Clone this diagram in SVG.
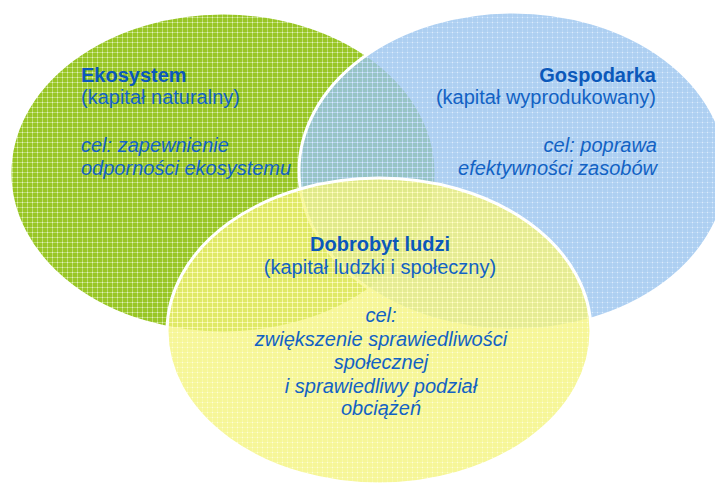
<svg xmlns="http://www.w3.org/2000/svg" width="715" height="497" viewBox="0 0 715 497">
  <defs>
    <pattern id="pg" width="5" height="5" patternUnits="userSpaceOnUse">
      <rect width="5" height="5" fill="#98C624"/>
      <rect x="2" width="1" height="5" fill="#BCDB70"/>
      <rect y="2" width="5" height="1" fill="#BCDB70"/>
      <rect x="2" y="2" width="1" height="1" fill="#E4F2C2"/>
    </pattern>
    <pattern id="pb" width="5" height="5" patternUnits="userSpaceOnUse">
      <rect width="5" height="5" fill="#98C3EE" fill-opacity="0.8"/>
      <rect x="2" width="1" height="5" fill="#BBD8F6" fill-opacity="0.8"/>
      <rect y="2" width="5" height="1" fill="#BBD8F6" fill-opacity="0.8"/>
      <rect x="2" y="2" width="1" height="1" fill="#E6F1FC" fill-opacity="0.8"/>
    </pattern>
    <pattern id="py" width="5" height="5" patternUnits="userSpaceOnUse">
      <rect width="5" height="5" fill="#F4F47A" fill-opacity="0.78"/>
      <rect x="2" width="1" height="5" fill="#F9F9AE" fill-opacity="0.78"/>
      <rect y="2" width="5" height="1" fill="#F9F9AE" fill-opacity="0.78"/>
      <rect x="2" y="2" width="1" height="1" fill="#FFFFE2" fill-opacity="0.78"/>
    </pattern>
  </defs>
  <style>
    .ring { stroke: #FFFFFF; stroke-width: 3; }
    text { font-family: "Liberation Sans", Arial, sans-serif; font-size: 20px; fill: #1262C4; }
    .b { font-weight: bold; fill: #0B58BA; }
    .i { font-style: italic; }
    .r { text-anchor: end; }
    .c { text-anchor: middle; }
  </style>
  <rect width="715" height="497" fill="#FFFFFF"/>
  <g id="ekosystem">
    <ellipse class="ring" cx="223" cy="173" rx="213" ry="160" fill="url(#pg)"/>
  </g>
  <g id="gospodarka">
    <ellipse class="ring" cx="513" cy="171" rx="214" ry="159" fill="url(#pb)"/>
  </g>
  <g id="dobrobyt">
    <ellipse class="ring" cx="379" cy="331" rx="212" ry="153" fill="url(#py)"/>
  </g>
  <g id="connectors"/>
  <g id="ekosystem-text">
    <text class="b" x="81" y="82">Ekosystem</text>
    <text x="81" y="104">(kapitał naturalny)</text>
    <text class="i" x="81" y="152">cel: zapewnienie</text>
    <text class="i" x="81" y="175">odporności ekosystemu</text>
  </g>
  <g id="gospodarka-text">
    <text class="b r" x="656" y="82">Gospodarka</text>
    <text class="r" x="656" y="104">(kapitał wyprodukowany)</text>
    <text class="i r" x="657" y="152">cel: poprawa</text>
    <text class="i r" x="657" y="175">efektywności zasobów</text>
  </g>
  <g id="dobrobyt-text">
    <text class="b c" x="380" y="251">Dobrobyt ludzi</text>
    <text class="c" x="380" y="274">(kapitał ludzki i społeczny)</text>
    <text class="i c" x="381" y="322">cel:</text>
    <text class="i c" x="381" y="346">zwiększenie sprawiedliwości</text>
    <text class="i c" x="381" y="369">społecznej</text>
    <text class="i c" x="381" y="393">i sprawiedliwy podział</text>
    <text class="i c" x="381" y="415">obciążeń</text>
  </g>
</svg>
